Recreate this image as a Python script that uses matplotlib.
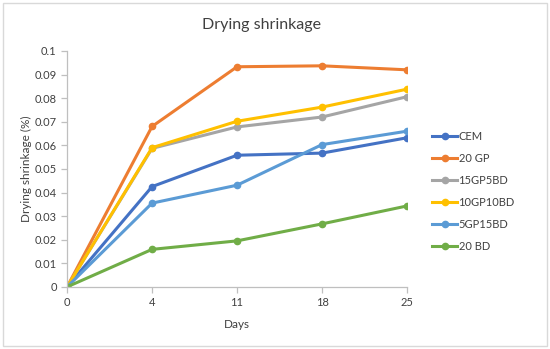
import matplotlib
matplotlib.use("Agg")
import matplotlib.pyplot as plt
from matplotlib.patches import Rectangle

days = ["0", "4", "11", "18", "25"]
series_names = ["CEM", "20 GP", "15GP5BD", "10GP10BD", "5GP15BD", "20 BD"]
cem = [0, 0.0425, 0.0558, 0.0567, 0.0632]
gp20 = [0, 0.0680, 0.0933, 0.0937, 0.0920]
gp15bd5 = [0, 0.0587, 0.0678, 0.0720, 0.0806]
gp10bd10 = [0, 0.0590, 0.0702, 0.0762, 0.0838]
gp5bd15 = [0, 0.0355, 0.0431, 0.0603, 0.0660]
bd20 = [0, 0.0159, 0.0195, 0.0267, 0.0343]
colors = ["#4472C4", "#ED7D31", "#A5A5A5", "#FFC000", "#5B9BD5", "#70AD47"]

plt.rcParams['font.family'] = ['Lato', 'DejaVu Sans']

fig = plt.figure(figsize=(5.5, 3.49), dpi=100)
fig.patches.append(Rectangle((0.006, 0.009), 0.988, 0.982, transform=fig.transFigure,
                             fill=False, edgecolor="#D9D9D9", linewidth=1))
ax = fig.add_axes([0.122, 0.178, 0.618, 0.676])

x = list(range(len(days)))
for name, vals, c in zip(series_names, [cem, gp20, gp15bd5, gp10bd10, gp5bd15, bd20], colors):
    ax.plot(x, vals, color=c, linewidth=2.2, marker="o", markersize=4.5, label=name)

ax.set_xlim(0, 4)
ax.set_ylim(0, 0.1)
ax.set_xticks(x)
ax.set_xticklabels(days)
yt = [i / 100 for i in range(11)]
ax.set_yticks(yt)
ax.set_yticklabels(["0"] + [f"{v:g}" for v in yt[1:]])
for s in ["top", "right"]:
    ax.spines[s].set_visible(False)
for s in ["left", "bottom"]:
    ax.spines[s].set_color("#BFBFBF")
    ax.spines[s].set_linewidth(0.9)
ax.tick_params(axis="both", colors="#BFBFBF", labelcolor="#404040", labelsize=8, length=4, width=0.9)
ax.set_xlabel("Days", fontsize=8.5, color="#404040", labelpad=8)
ax.set_ylabel("Drying shrinkage (%)", fontsize=8.5, color="#404040", labelpad=2)
fig.text(0.475, 0.928, "Drying shrinkage", ha="center", va="center", fontsize=11.5, color="#404040")

leg = ax.legend(loc="center left", bbox_to_anchor=(1.06, 0.405), frameon=False, fontsize=8,
                handlelength=2.3, handletextpad=0.1, labelspacing=1.0, borderaxespad=0)
for t in leg.get_texts():
    t.set_color("#404040")

fig.savefig("out.png", dpi=100)
